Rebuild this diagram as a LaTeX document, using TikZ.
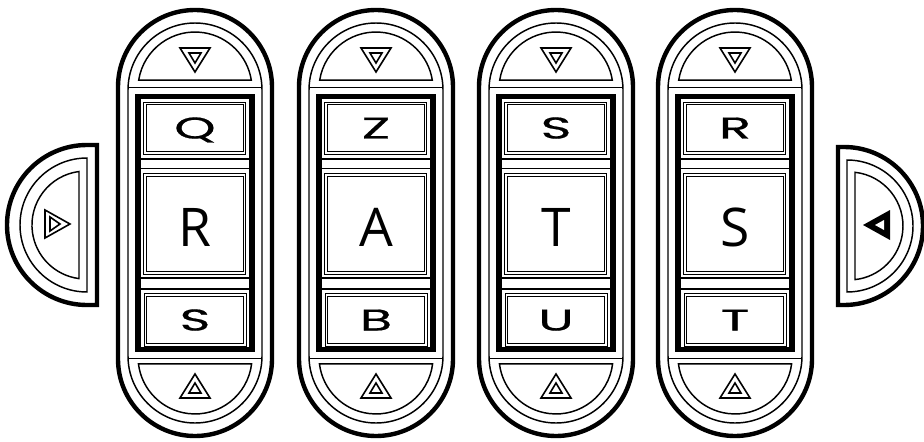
\documentclass[tikz,border=0pt]{standalone}
\usepackage{fontspec}
\newfontfamily\bigfont{Open Sans}
\newfontfamily\smallfont[FakeBold=0.6]{Poppins}
\begin{document}
\begin{tikzpicture}[x=0.75pt,y=-0.75pt,
  thickline/.style={line width=3.3pt},
  thinline/.style={line width=1.1pt},
  frameline/.style={line width=4.1pt},
  boxline/.style={draw, line width=0.75pt, double=white, double distance=1pt},
  tri/.style={line width=1.2pt, line join=miter},
  bigtext/.style={inner sep=0pt, anchor=base, font=\bigfont\fontsize{40}{40}\selectfont},
  smalltext/.style={inner sep=0pt, anchor=base, font=\smallfont\fontsize{22.5}{22.5}\selectfont},
]
\useasboundingbox (0,0) rectangle (924,442);
\fill[white] (0,0) rectangle (924,442);

\foreach \cx/\ta/\ma/\ba [count=\i] in {195/Q/R/S, 376/Z/A/B, 556/S/T/U, 735/R/S/T}{
  % outer capsule
  \draw[thickline] (\cx-77,87) arc[start angle=180, end angle=360, radius=77]
     -- (\cx+77,359) arc[start angle=0, end angle=180, radius=77] -- cycle;
  % inner capsule
  \draw[thinline] (\cx-67,90) arc[start angle=180, end angle=360, radius=67]
     -- (\cx+67,356) arc[start angle=0, end angle=180, radius=67] -- cycle;
  % dividers
  \draw[thinline] (\cx-67,87.5) -- (\cx+67,87.5);
  \draw[thinline] (\cx-67,358.5) -- (\cx+67,358.5);
  % domes
  \draw[thinline] (\cx-56.3,80.1) arc[start angle=189, end angle=351, radius=57] -- cycle;
  \draw[thinline] (\cx+56.6,363.9) arc[start angle=7, end angle=173, radius=57] -- cycle;
  % triangles
  \draw[tri] (\cx-15,48) -- (\cx+15,48) -- (\cx,72) -- cycle;
  \draw[tri] (\cx-6,53) -- (\cx+6,53) -- (\cx,63) -- cycle;
  \draw[tri] (\cx-15,398) -- (\cx+15,398) -- (\cx,374) -- cycle;
  \draw[tri] (\cx-6,393) -- (\cx+6,393) -- (\cx,383) -- cycle;
  % thick frame
  \draw[frameline] (\cx-57,96.5) rectangle (\cx+57,349.5);
  % separator bars
  \draw[thinline] (\cx-55,159) -- (\cx+55,159);
  \draw[thinline] (\cx-55,168.5) -- (\cx+55,168.5);
  \draw[thinline] (\cx-55,278) -- (\cx+55,278);
  \draw[thinline] (\cx-55,289) -- (\cx+55,289);
  % boxes
  \draw[boxline] (\cx-50,103.5) rectangle (\cx+49.5,153);
  \draw[boxline] (\cx-50,175) rectangle (\cx+49.5,273);
  \draw[boxline] (\cx-49.5,295) rectangle (\cx+50,345);
  % letters
  \node[smalltext] (top\i) at (\cx,138.5) {\scalebox{1.75}[1]{\ta}};
  \node[bigtext] (mid\i) at (\cx,246) {\ma};
  \node[smalltext] (bot\i) at (\cx,330.5) {\scalebox{1.75}[1]{\ba}};
}

% left side button
\draw[thickline] (97,145) -- (87,145) arc[start angle=270, end angle=90, radius=80] -- (97,305) -- cycle;
\draw[thinline] (87,158) arc[start angle=270, end angle=90, radius=67] -- cycle;
\draw[thinline] (79,171.5) arc[start angle=262.6, end angle=97.4, radius=54] -- cycle;
\draw[tri] (45,210) -- (45,238) -- (70,224) -- cycle;
\draw[tri] (50,217) -- (50,231) -- (60,224) -- cycle;

% right side button
\draw[thickline] (838,147) -- (844,147) arc[start angle=-90, end angle=90, radius=79] -- (838,305) -- cycle;
\draw[thinline] (847,160) arc[start angle=-90, end angle=90, radius=66] -- cycle;
\draw[thinline] (855,172.3) arc[start angle=-83.6, end angle=83.6, radius=54] -- cycle;
\fill (890,210) -- (890,240) -- (863,225) -- cycle;
\fill[white] (884,220) -- (884,230) -- (875,225) -- cycle;
\end{tikzpicture}
\end{document}
